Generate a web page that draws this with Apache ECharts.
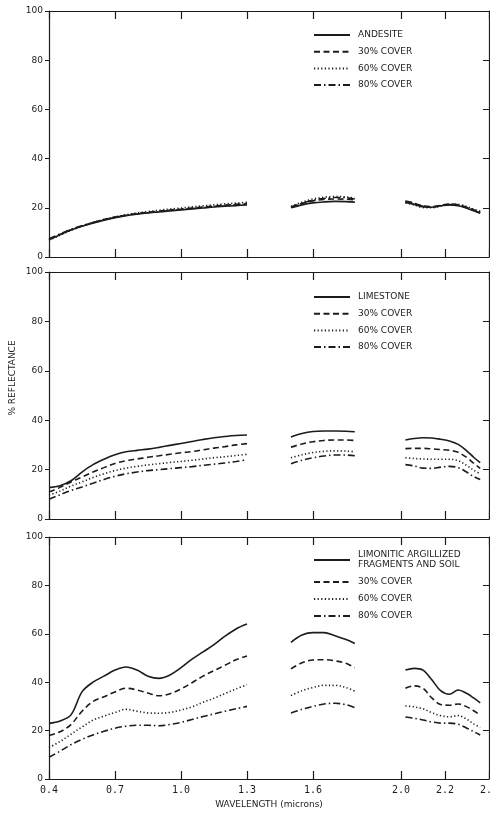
<!DOCTYPE html>
<html>
<head>
<meta charset="utf-8">
<script src="https://cdn.jsdelivr.net/npm/echarts@6/dist/echarts.min.js"></script>
<style>
  html, body { margin: 0; background: #fff; }
  #chart { width: 490px; height: 814px; }
</style>
</head>
<body>
<div id="chart"></div>
<script>
// wavelength grid (microns); 1.40 and 1.90 are the absorption gaps
var wavelength = [0.40,0.45,0.50,0.55,0.60,0.65,0.70,0.75,0.80,0.85,0.90,0.95,1.00,1.05,1.10,1.15,1.20,1.25,1.30,
  1.40,
  1.50,1.55,1.60,1.65,1.70,1.75,1.79,
  1.90,
  2.02,2.06,2.10,2.14,2.18,2.22,2.26,2.30,2.33,2.36];

var xTicks = [0.4, 0.7, 1.0, 1.3, 1.6, 2.0, 2.2, 2.4];
var yTicks = [0, 20, 40, 60, 80, 100];

var covers = ['30% COVER', '60% COVER', '80% COVER'];

// panel 1: andesite
var andesite   = [7,9,11,12.5,13.8,15,16,16.8,17.4,17.9,18.3,18.7,19.1,19.5,19.9,20.3,20.6,20.9,21.2, null, 20,21.2,22,22.4,22.6,22.5,22.3, null, 22.2,21.4,20.4,20.2,20.8,21.2,20.8,19.8,18.8,17.8];
var andesite30 = [7.2,9.2,11.1,12.6,14,15.2,16.2,17,17.7,18.2,18.6,19.1,19.5,19.9,20.3,20.7,21.1,21.4,21.7, null, 20.3,21.8,22.8,23.4,23.6,23.5,23.2, null, 22.5,21.8,20.8,20.5,21,21.5,21.2,20.2,19.2,18.3];
var andesite60 = [6.8,8.8,10.8,12.5,14,15.3,16.3,17.2,17.9,18.5,19,19.5,19.9,20.4,20.8,21.2,21.6,21.9,22.2, null, 20.6,22.3,23.6,24.3,24.6,24.4,24, null, 22,21.2,20.1,20,20.6,21.4,21.4,20.5,19.5,18.6];
var andesite80 = [7.4,9.4,11.2,12.7,14,15.1,16.1,16.9,17.5,18,18.4,18.9,19.3,19.7,20.1,20.5,20.8,21.2,21.5, null, 20.2,21.8,23.1,23.8,24.2,24.1,23.6, null, 22.8,21.9,20.6,20.3,20.9,21.3,21,20,19,18];

// panel 2: limestone
var limestone   = [12.7,13.5,15.5,19,22,24.2,26,27.2,27.8,28.3,29,29.8,30.6,31.4,32.2,32.9,33.4,33.8,34, null, 33.2,34.6,35.4,35.6,35.6,35.5,35.3, null, 32,32.6,32.9,32.8,32.3,31.6,30.2,27.5,25,22.8];
var limestone30 = [11,12.8,15,17,19,20.8,22.5,23.6,24.3,25,25.6,26.2,26.8,27.3,28,28.7,29.3,30,30.5, null, 29.1,30.4,31.3,31.8,32,32,31.8, null, 28.5,28.6,28.6,28.4,28.1,27.8,27,24.8,22.6,20.5];
var limestone60 = [9.7,11.3,13.3,15,16.8,18.3,19.6,20.6,21.3,21.9,22.4,22.9,23.3,23.8,24.3,24.8,25.2,25.7,26.2, null, 24.8,26,26.9,27.4,27.6,27.5,27.2, null, 24.8,24.5,24.3,24.2,24.2,24.2,23.6,21.6,19.8,18.3];
var limestone80 = [8,9.8,11.5,13,14.5,16,17.3,18.3,19,19.6,20,20.4,20.8,21.2,21.7,22.2,22.7,23.3,24, null, 22.4,23.8,24.8,25.5,25.9,25.9,25.6, null, 22,21.5,20.6,20.5,21,21.3,20.8,18.9,17.2,16];

// panel 3: limonitic argillized fragments and soil
var limonitic   = [23,24,26.5,36,40,42.5,45,46.3,45,42.5,41.6,43,46,49.5,52.5,55.5,59,62,64, null, 56.5,59.5,60.5,60.5,59.2,57.6,56, null, 45,45.7,45,41,36.5,35,36.8,35.3,33.5,31.5];
var limonitic30 = [18,19.5,22.5,28,32,34,36,37.5,36.8,35.5,34.4,35.2,37.2,39.8,42.5,44.8,47,49.3,50.8, null, 45.5,48,49.2,49.3,48.8,47.8,46, null, 37.5,38.5,37.5,33.5,30.8,30.5,31,29.8,28.2,26.4];
var limonitic60 = [13,15.5,18.5,21.5,24.3,26,27.5,28.8,28,27.3,27.2,27.5,28.5,29.8,31.7,33.4,35.3,37.2,39, null, 34.5,36.5,37.8,38.7,38.7,37.8,36.3, null, 30.2,29.8,29,27.4,26.2,25.7,26.2,24.6,22.8,21.3];
var limonitic80 = [9,11.5,14.2,16.4,18.2,19.7,21,21.8,22.2,22.2,22,22.5,23.4,24.6,25.8,26.9,28,29,30, null, 27.3,28.8,30,31,31.3,30.7,29.5, null, 25.6,25.1,24.4,23.6,23.1,23.1,22.6,21,19.6,18.2];

var panels = [
  { names: ['ANDESITE'].concat(covers), values: [andesite, andesite30, andesite60, andesite80] },
  { names: ['LIMESTONE'].concat(covers), values: [limestone, limestone30, limestone60, limestone80] },
  { names: ['LIMONITIC ARGILLIZED FRAGMENTS AND SOIL'].concat(covers), values: [limonitic, limonitic30, limonitic60, limonitic80] }
];

var ink = '#1c1c1c';
var font = 'DejaVu Sans';
var grids = [{ top: 11, height: 246 }, { top: 272, height: 247 }, { top: 537, height: 242 }];
var legendTops = [25, 287, 545];
var legendGaps = [6.7, 6.7, 7];
var dashes = ['solid', [6, 3.5], [1.2, 2.4], [7, 3, 1.5, 3]];

var chart = echarts.init(document.getElementById('chart'));

var option = {
  backgroundColor: '#fff',
  animation: false,
  grid: [], xAxis: [], yAxis: [], legend: [], series: [],
  graphic: [{
    type: 'text', x: 13, y: 378, rotation: Math.PI / 2,
    style: { text: '% REFLECTANCE', fill: ink, font: '9px "DejaVu Sans"', align: 'center', verticalAlign: 'middle' }
  }]
};

var axisLine = { show: true, onZero: false, lineStyle: { color: ink, width: 1.2 } };

panels.forEach(function (p, i) {
  option.grid.push({ left: 49, right: 1, top: grids[i].top, height: grids[i].height, outerBoundsMode: 'none' });

  option.xAxis.push({
    gridIndex: i, type: 'value', min: 0.4, max: 2.4, position: 'bottom',
    axisLine: axisLine,
    axisTick: { inside: true, length: 8, customValues: xTicks, lineStyle: { color: ink, width: 1.2 } },
    axisLabel: {
      show: i === 2, customValues: xTicks, formatter: function (v) { return v.toFixed(1); },
      color: ink, fontFamily: 'DejaVu Sans Mono', fontSize: 10, margin: 6
    },
    splitLine: { show: false },
    name: i === 2 ? 'WAVELENGTH (microns)' : '', nameLocation: 'middle', nameGap: 21,
    nameTextStyle: { color: ink, fontFamily: font, fontSize: 9 }
  });

  option.yAxis.push({
    gridIndex: i, type: 'value', min: 0, max: 100, interval: 20,
    axisLine: axisLine,
    axisTick: { inside: false, length: 4, lineStyle: { color: ink } },
    axisLabel: { color: ink, fontFamily: font, fontSize: 9, margin: 6 },
    splitLine: { show: false }
  });

  option.legend.push({
    orient: 'vertical', left: 308, top: legendTops[i],
    itemWidth: 36, itemHeight: 10, itemGap: legendGaps[i],
    selectedMode: false,
    data: p.names,
    itemStyle: { opacity: 0 },
    formatter: function (n) { return n.replace('ARGILLIZED ', 'ARGILLIZED\n'); },
    textStyle: { color: ink, fontFamily: font, fontSize: 9, lineHeight: 10, padding: [0, 0, 0, 3] }
  });

  p.names.forEach(function (name, j) {
    option.series.push({
      type: 'line', name: name, xAxisIndex: i, yAxisIndex: i,
      data: wavelength.map(function (w, k) { var v = p.values[j][k]; return [w, v == null ? '-' : v]; }),
      symbol: 'none', showSymbol: false, smooth: 0.35, connectNulls: false, silent: true,
      itemStyle: { color: ink },
      lineStyle: { color: ink, width: 1.6, type: dashes[j] }
    });
  });
});

// frame: top and right edges with inward ticks
panels.forEach(function (p, i) {
  option.xAxis.push({
    gridIndex: i, type: 'value', min: 0.4, max: 2.4, position: 'top',
    axisLine: axisLine,
    axisTick: { inside: true, length: 8, customValues: xTicks, lineStyle: { color: ink, width: 1.2 } },
    axisLabel: { show: false }, splitLine: { show: false }
  });
  option.yAxis.push({
    gridIndex: i, type: 'value', min: 0, max: 100, interval: 20, position: 'right',
    axisLine: axisLine,
    axisTick: { inside: true, length: 6, lineStyle: { color: ink } },
    axisLabel: { show: false }, splitLine: { show: false }
  });
});

chart.setOption(option);
</script>
</body>
</html>
